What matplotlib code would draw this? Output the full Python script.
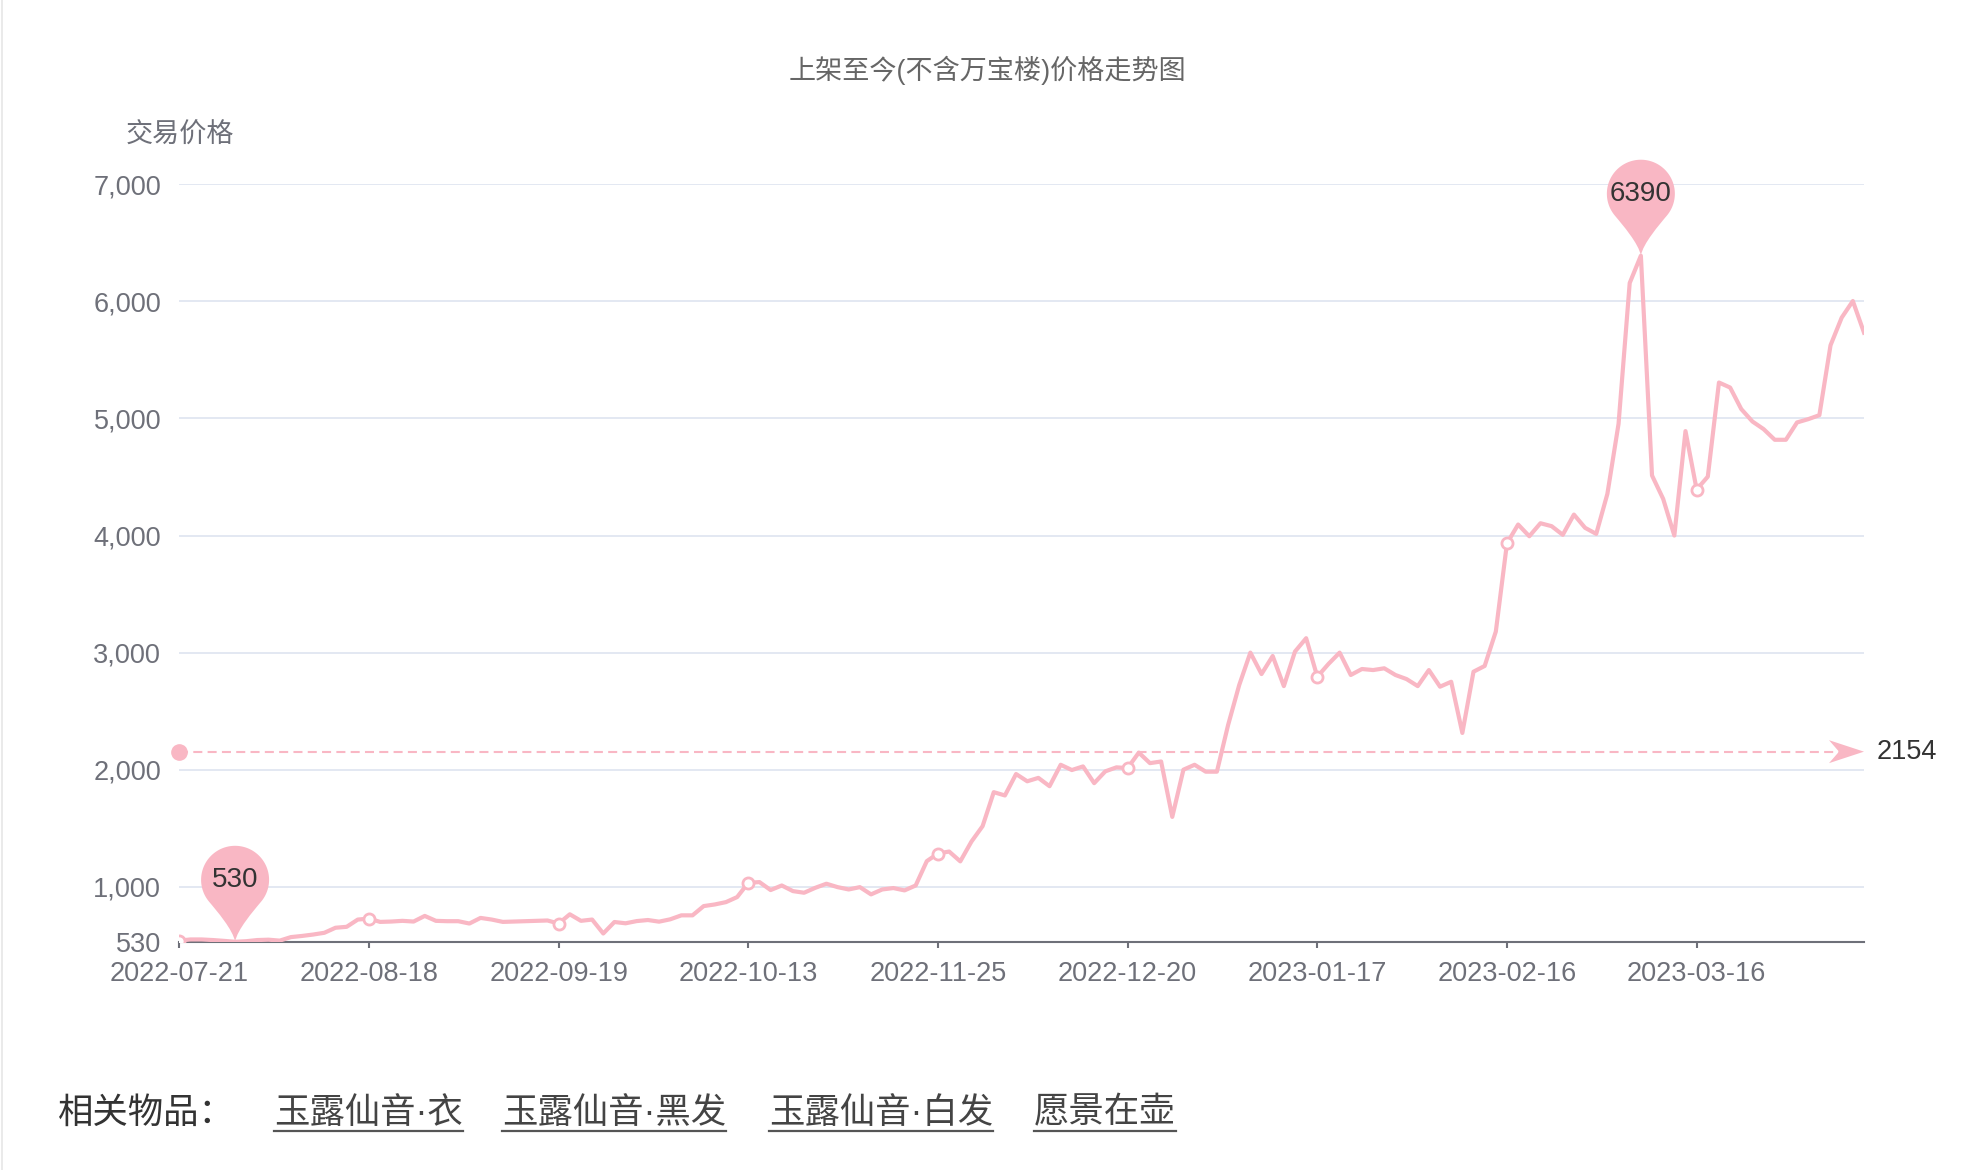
import matplotlib
matplotlib.use("Agg")
import numpy as np
import matplotlib.pyplot as plt
import matplotlib.transforms as mtrans
from matplotlib.path import Path
from matplotlib.patches import PathPatch
from matplotlib.lines import Line2D

plt.rcParams['font.family'] = ['Liberation Sans', 'Noto Sans CJK SC', 'DejaVu Sans']
plt.rcParams['lines.scale_dashes'] = False

# price per trade point (category axis, one label every 17 points)
prices = [540, 550, 550, 545, 538, 530, 535, 545, 548, 540,
          570, 580, 592, 607, 650, 658, 720, 728, 700, 703,
          709, 703, 751, 709, 706, 706, 686, 734, 720, 700,
          703, 706, 709, 712, 686, 765, 709, 720, 601, 699,
          688, 707, 716, 702, 722, 756, 756, 835, 849, 869,
          912, 1034, 1040, 972, 1011, 963, 949, 991, 1026, 997,
          977, 997, 935, 977, 989, 969, 1011, 1219, 1284, 1301,
          1217, 1386, 1518, 1808, 1780, 1963, 1901, 1930, 1859, 2042,
          1997, 2028, 1885, 1986, 2020, 2014, 2146, 2056, 2070, 1597,
          2000, 2042, 1983, 1983, 2380, 2723, 3000, 2817, 2971, 2714,
          3009, 3123, 2794, 2903, 3000, 2809, 2860, 2851, 2866, 2809,
          2774, 2714, 2851, 2709, 2751, 2314, 2837, 2886, 3180, 3934,
          4094, 3994, 4105, 4080, 4006, 4179, 4066, 4014, 4356, 4954,
          6157, 6390, 4513, 4313, 4000, 4892, 4393, 4503, 5307, 5264,
          5080, 4974, 4909, 4818, 4818, 4966, 4994, 5028, 5625, 5861,
          6003, 5733]
tick_labels = ['2022-07-21', '2022-08-18', '2022-09-19', '2022-10-13', '2022-11-25',
               '2022-12-20', '2023-01-17', '2023-02-16', '2023-03-16']
tick_step = 17
avg_price = 2154
y_ticks = [530, 1000, 2000, 3000, 4000, 5000, 6000, 7000]

title = '上架至今(不含万宝楼)价格走势图'
y_name = '交易价格'
related_title = '相关物品：'
related = ['玉露仙音·衣', '玉露仙音·黑发', '玉露仙音·白发', '愿景在壶']

pink = '#F9B7C4'
grey = '#6E7079'
W, H = 1971, 1170

fig = plt.figure(figsize=(W / 100, H / 100), dpi=100)
ax = fig.add_axes([179.3 / W, 1 - 941.8 / H, (1864 - 179.3) / W, (941.8 - 184.3) / H])

x = np.arange(len(prices))
p = np.array(prices)
ax.plot(x, p, color=pink, lw=3.0, solid_joinstyle='round', zorder=3)
tick_idx = x[::tick_step][:len(tick_labels)]
ax.plot(tick_idx, p[tick_idx], 'o', ms=8, mfc='white', mec=pink, mew=2, zorder=4)

ax.set_xlim(0, len(prices) - 1)
ax.set_ylim(y_ticks[0], y_ticks[-1])
ax.set_xticks(tick_idx)
ax.set_xticklabels(tick_labels)
ax.set_yticks(y_ticks)
ax.set_yticklabels([f'{v:,}' for v in y_ticks])
for v in y_ticks[1:]:
    ax.axhline(v, color='#E0E6F1', lw=1.3, zorder=1)

for s in ['top', 'right', 'left']:
    ax.spines[s].set_visible(False)
ax.spines['bottom'].set_color(grey)
ax.spines['bottom'].set_linewidth(1.5)
ax.tick_params(axis='x', colors=grey, labelsize=19.5, length=4.3, width=1.5, pad=9.5)
ax.tick_params(axis='y', colors=grey, labelsize=19.5, length=0, pad=13)


def place(xd, yd):
    # pixel offsets around a data point
    return (mtrans.Affine2D().scale(1.0 / fig.dpi) + fig.dpi_scale_trans
            + mtrans.ScaledTranslation(xd, yd, ax.transData))


def pin(xd, yd, label, r=34, d=62):
    a = np.deg2rad(40)
    pr = (r * np.cos(a), d - r * np.sin(a))
    tan = (np.sin(a), np.cos(a))
    c2 = (pr[0] - 12 * tan[0], pr[1] - 12 * tan[1])
    verts = [(0, 0), (2, 12), c2, pr]
    codes = [Path.MOVETO, Path.CURVE4, Path.CURVE4, Path.CURVE4]
    for t in np.linspace(-a, np.pi + a, 80)[1:-1]:
        verts.append((r * np.cos(t), d + r * np.sin(t)))
        codes.append(Path.LINETO)
    verts += [(-pr[0], pr[1]), (-c2[0], c2[1]), (-2, 12), (0, 0)]
    codes += [Path.LINETO, Path.CURVE4, Path.CURVE4, Path.CURVE4]
    ax.add_patch(PathPatch(Path(verts, codes), transform=place(xd, yd), fc=pink,
                           ec='none', zorder=5, clip_on=False))
    ax.annotate(label, xy=(xd, yd), xytext=(0, d * 0.72), textcoords='offset points',
                ha='center', va='center', fontsize=20, color='#333333', zorder=6)


imax, imin = int(np.argmax(p)), int(np.argmin(p))
pin(imax, p[imax], str(p[imax]))
pin(imin, p[imin], str(p[imin]))

# average line
n = len(prices) - 1
ax.plot([0, n - 2], [avg_price, avg_price], color=pink, lw=1.5, ls=(0, (6.5, 3.8)),
        zorder=3, clip_on=False)
ax.plot(0, avg_price, 'o', ms=11, color=pink, zorder=4, clip_on=False)
arrow = Path([(0, 0), (-35, 11.5), (-25, 0), (-35, -11.5), (0, 0)],
             [Path.MOVETO, Path.LINETO, Path.LINETO, Path.LINETO, Path.CLOSEPOLY])
ax.add_patch(PathPatch(arrow, transform=place(n, avg_price), fc=pink, ec='none',
                       zorder=4, clip_on=False))
ax.annotate(str(avg_price), xy=(n, avg_price), xytext=(9, 0), textcoords='offset points',
            ha='left', va='center', fontsize=19.5, color='#333333')

fig.text(988 / W, 1 - 70 / H, title, ha='center', va='center', fontsize=19.5, color='#666666')
fig.text(180 / W, 1 - 136 / H, y_name, ha='center', va='center', fontsize=19.5, color=grey)

yb = 1 - 1113 / H
fig.text(58 / W, yb, related_title, ha='left', va='center', fontsize=25.5, color='#333333')
link_x = [274, 502, 769, 1034]
links = [fig.text(lx / W, yb, name, ha='left', va='center', fontsize=25.5, color='#444444')
         for lx, name in zip(link_x, related)]

fig.add_artist(Line2D([0.0008, 0.0008], [0, 1], color='#E6E6E6', lw=1.2,
                      transform=fig.transFigure))

fig.canvas.draw()
r = fig.canvas.get_renderer()
for t in links:
    bb = t.get_window_extent(r)
    fig.add_artist(Line2D([bb.x0 / W, bb.x1 / W], [(H - 1131) / H] * 2, color='#555555',
                          lw=1.6, transform=fig.transFigure))

fig.savefig('out.png', dpi=100, facecolor='white')
